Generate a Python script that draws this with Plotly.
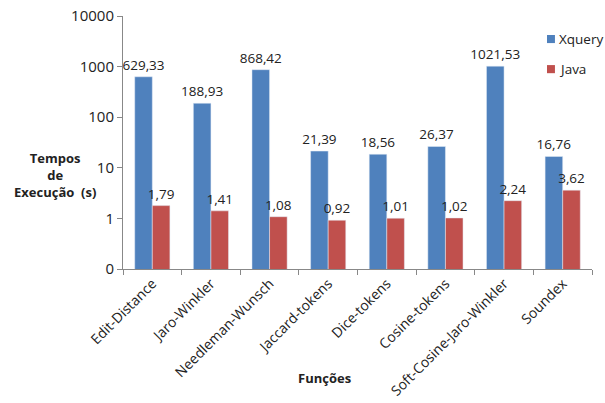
import plotly.graph_objects as go

categories = ["Edit-Distance", "Jaro-Winkler", "Needleman-Wunsch", "Jaccard-tokens",
              "Dice-tokens", "Cosine-tokens", "Soft-Cosine-Jaro-Winkler", "Soundex"]
xquery = [629.33, 188.93, 868.42, 21.39, 18.56, 26.37, 1021.53, 16.76]
java = [1.79, 1.41, 1.08, 0.92, 1.01, 1.02, 2.24, 3.62]
ytick_vals = [0.1, 1, 10, 100, 1000, 10000]
ytick_text = ["0", "1", "10", "100", "1000", "10000"]
series_names = ["Xquery", "Java"]
series_colors = ["#4F81BD", "#C0504D"]

def fmt(v):
    return f"{v:.2f}".replace(".", ",")

FONT = "Open Sans, Liberation Sans, sans-serif"
fig = go.Figure()
for name, vals, col in zip(series_names, [xquery, java], series_colors):
    fig.add_trace(go.Bar(name=name, x=categories, y=vals, marker_color=col,
                         text=[fmt(v) for v in vals], textposition="outside",
                         constraintext="none",
                         textfont=dict(size=13.5, color="#222"), cliponaxis=False))

fig.update_layout(
    width=605, height=403, barmode="group", bargap=0.40, bargroupgap=0,
    margin=dict(l=123, r=13, t=16, b=134, autoexpand=False),
    paper_bgcolor="white", plot_bgcolor="white",
    font=dict(family=FONT, size=12, color="#222"),
    showlegend=False,
    uniformtext=dict(mode=False),
)
fig.update_xaxes(showline=True, linecolor="#888", linewidth=1, ticks="outside", ticklen=5,
                 tickcolor="#888", tickson="boundaries", tickangle=-45, automargin=False,
                 tickfont=dict(size=14), showgrid=False)
fig.update_yaxes(type="log", range=[-1, 4], tickvals=ytick_vals, ticktext=ytick_text,
                 showline=True, linecolor="#888", linewidth=1, ticks="outside", ticklen=5,
                 tickcolor="#888", showgrid=False, tickfont=dict(size=15), automargin=False)

# manual legend (top right, inside the plot region as in the reference)
leg_y = [0.909, 0.79]
for name, col, yc in zip(series_names, series_colors, leg_y):
    fig.add_shape(type="rect", xref="paper", yref="paper",
                  x0=0.904, x1=0.921, y0=yc - 0.016, y1=yc + 0.016,
                  fillcolor=col, line=dict(width=0))
    fig.add_annotation(text=name, xref="paper", yref="paper", x=0.926, y=yc,
                       xanchor="left", yanchor="middle", showarrow=False,
                       font=dict(size=13.5, color="#222"))

fig.add_annotation(text="<b>Tempos<br>de<br>Execução  (s)</b>", xref="paper", yref="paper",
                   x=-0.145, y=0.37, xanchor="center", yanchor="middle", showarrow=False,
                   font=dict(size=13, color="#222"), align="center")
fig.add_annotation(text="<b>Funções</b>", xref="paper", yref="paper",
                   x=0.43, y=-0.43, xanchor="center", yanchor="middle", showarrow=False,
                   font=dict(size=13, color="#222"))

fig.write_html("out.html")
